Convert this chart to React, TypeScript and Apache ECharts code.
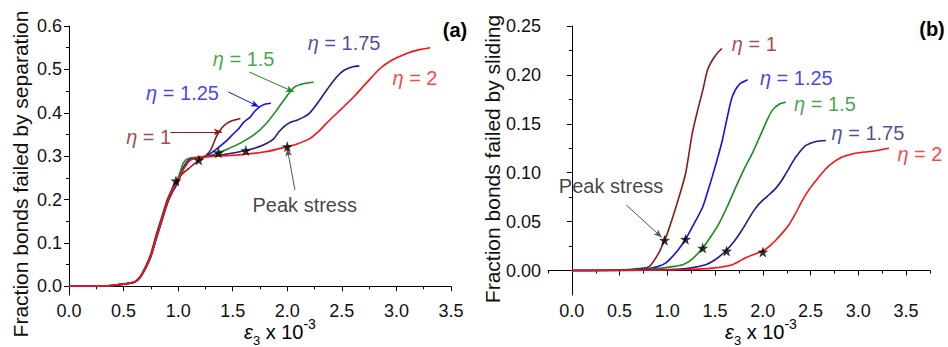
import React, { useEffect, useRef } from "react";
import * as echarts from "echarts";

// ---------- data (a): fraction failed by separation ----------
const sepEta1: number[][] = [[0,0],[0.3,0],[0.4,0.002],[0.5,0.005],[0.6,0.01],[0.65,0.022],[0.7,0.045],[0.75,0.075],[0.8,0.12],[0.85,0.16],[0.9,0.2],[0.95,0.228],[0.98,0.243],[1.05,0.262],[1.1,0.272],[1.15,0.283],[1.2,0.292],[1.25,0.3],[1.3,0.315],[1.35,0.345],[1.4,0.365],[1.45,0.376],[1.5,0.382],[1.57,0.387]];
const sepEta125: number[][] = [[0,0],[0.3,0],[0.4,0.002],[0.5,0.005],[0.6,0.01],[0.65,0.02],[0.7,0.04],[0.75,0.068],[0.8,0.11],[0.85,0.15],[0.9,0.19],[0.95,0.218],[1.0,0.24],[1.05,0.275],[1.1,0.292],[1.15,0.296],[1.2,0.297],[1.25,0.3],[1.3,0.307],[1.36,0.318],[1.45,0.337],[1.5,0.35],[1.55,0.362],[1.6,0.378],[1.66,0.39],[1.7,0.403],[1.75,0.414],[1.8,0.42],[1.85,0.422]];
const sepEta15: number[][] = [[0,0],[0.3,0],[0.4,0.002],[0.5,0.005],[0.6,0.01],[0.65,0.021],[0.7,0.042],[0.75,0.07],[0.8,0.115],[0.85,0.155],[0.9,0.195],[0.95,0.225],[1.0,0.25],[1.05,0.285],[1.1,0.295],[1.2,0.298],[1.3,0.302],[1.37,0.308],[1.45,0.316],[1.57,0.33],[1.7,0.35],[1.81,0.376],[1.9,0.405],[2.0,0.44],[2.06,0.458],[2.12,0.465],[2.17,0.468],[2.24,0.471]];
const sepEta175: number[][] = [[0,0],[0.3,0],[0.4,0.002],[0.5,0.005],[0.6,0.01],[0.65,0.02],[0.7,0.042],[0.75,0.07],[0.8,0.112],[0.85,0.152],[0.9,0.192],[0.95,0.222],[1.0,0.245],[1.05,0.272],[1.1,0.29],[1.15,0.295],[1.2,0.297],[1.3,0.3],[1.45,0.305],[1.62,0.313],[1.7,0.318],[1.8,0.328],[1.875,0.34],[1.92,0.355],[1.97,0.368],[2.03,0.378],[2.09,0.383],[2.15,0.39],[2.2,0.398],[2.27,0.42],[2.36,0.452],[2.45,0.482],[2.52,0.498],[2.6,0.506],[2.66,0.508]];
const sepEta2: number[][] = [[0,0],[0.3,0],[0.4,0.002],[0.5,0.005],[0.6,0.01],[0.65,0.02],[0.7,0.042],[0.75,0.07],[0.8,0.112],[0.85,0.152],[0.9,0.192],[0.95,0.222],[1.0,0.245],[1.05,0.27],[1.1,0.288],[1.15,0.295],[1.2,0.298],[1.5,0.302],[1.8,0.31],[2.0,0.322],[2.09,0.328],[2.21,0.341],[2.3,0.36],[2.36,0.376],[2.5,0.41],[2.61,0.437],[2.73,0.47],[2.85,0.502],[2.95,0.52],[3.1,0.537],[3.2,0.545],[3.31,0.55]];
const sepPeaks: number[][] = [[0.98,0.243],[1.19,0.291],[1.37,0.308],[1.62,0.313],[2.0,0.322]];

// ---------- data (b): fraction failed by sliding ----------
const slEta1: number[][] = [[0,0],[0.4,0.0003],[0.6,0.001],[0.7,0.002],[0.81,0.004],[0.91,0.018],[0.97,0.031],[1.0,0.038],[1.09,0.065],[1.19,0.099],[1.26,0.14],[1.32,0.165],[1.37,0.184],[1.42,0.205],[1.47,0.215],[1.52,0.222],[1.57,0.227]];
const slEta125: number[][] = [[0,0],[0.5,0.0005],[0.7,0.001],[0.81,0.002],[0.9,0.004],[0.98,0.0075],[1.05,0.014],[1.12,0.022],[1.19,0.032],[1.28,0.048],[1.37,0.065],[1.42,0.08],[1.47,0.096],[1.52,0.113],[1.575,0.133],[1.63,0.158],[1.68,0.178],[1.75,0.19],[1.84,0.195]];
const slEta15: number[][] = [[0,0],[0.6,0.0005],[0.9,0.002],[1.05,0.004],[1.16,0.006],[1.25,0.011],[1.37,0.023],[1.45,0.034],[1.54,0.048],[1.63,0.066],[1.72,0.086],[1.8,0.103],[1.89,0.12],[1.95,0.133],[2.0,0.144],[2.05,0.155],[2.1,0.164],[2.17,0.17],[2.24,0.172]];
const slEta175: number[][] = [[0,0],[0.7,0.0003],[1.0,0.001],[1.2,0.002],[1.4,0.006],[1.5,0.011],[1.61,0.02],[1.7,0.03],[1.785,0.042],[1.89,0.059],[1.95,0.067],[2.0,0.072],[2.07,0.078],[2.135,0.084],[2.19,0.091],[2.24,0.099],[2.3,0.109],[2.345,0.116],[2.4,0.123],[2.45,0.128],[2.555,0.132],[2.66,0.133]];
const slEta2: number[][] = [[0,0],[0.8,0.0003],[1.2,0.001],[1.47,0.0025],[1.68,0.006],[1.82,0.013],[1.92,0.017],[2.0,0.02],[2.07,0.025],[2.135,0.031],[2.2,0.038],[2.26,0.045],[2.34,0.058],[2.415,0.072],[2.5,0.085],[2.59,0.096],[2.66,0.104],[2.73,0.11],[2.83,0.116],[2.97,0.12],[3.15,0.122],[3.32,0.125]];
const slPeaks: number[][] = [[0.97,0.031],[1.19,0.032],[1.37,0.023],[1.62,0.02],[2.0,0.019]];

// ---------- labels ----------
const etaNames = ["1", "1.25", "1.5", "1.75", "2"];
const colors = ["#8b1a1a", "#1010f0", "#1a8c1a", "#1c1c8c", "#ff1010"];
const sepLabelPos: number[][] = [[0.73,0.345],[1.04,0.445],[1.60,0.523],[2.52,0.56],[3.17,0.479]];
const slLabelPos: number[][] = [[1.91,0.232],[2.35,0.197],[2.65,0.17],[3.10,0.141],[3.645,0.119]];
// arrows [from, to] by eta index (null = no arrow)
const sepArrows: (number[][] | null)[] = [[[0.93,0.356],[1.40,0.356]], [[1.46,0.448],[1.74,0.414]], [[1.65,0.494],[2.06,0.448]], null, null];
const sepPeakLabel = [2.16, 0.188];
const sepPeakArrow = [[2.07, 0.222], [2.0, 0.318]];
const slPeakLabel = [0.41, 0.086];
const slPeakArrow = [[0.57, 0.067], [0.94, 0.034]];

// ---------- ticks ----------
const slXTicks = [0, 0.5, 1, 1.5, 2, 2.5, 3, 3.5];
const slXMinor = [-0.25, 0.25, 0.75, 1.25, 1.75, 2.25, 2.75, 3.25, 3.75];
const sepYTicks = [0, 0.1, 0.2, 0.3, 0.4, 0.5, 0.6];
const sepYMinor = [0.05, 0.15, 0.25, 0.35, 0.45, 0.55];
const slYTicks = [0, 0.05, 0.1, 0.15, 0.2, 0.25];
const slYMinor = [0.025, 0.075, 0.125, 0.175, 0.225];

const FONT = "'Liberation Sans', Arial, sans-serif";
const STAR = "path://M0,-10L2.35,-3.24L9.51,-3.09L3.8,1.24L5.88,8.09L0,4L-5.88,8.09L-3.8,1.24L-9.51,-3.09L-2.35,-3.24Z";

export default function App() {
  const ref = useRef<HTMLDivElement>(null);
  useEffect(() => {
    if (!ref.current) return;
    const chart = echarts.init(ref.current, null, { renderer: "svg" });

    const mainAxisCommon = {
      axisLine: { show: true, lineStyle: { color: "#000", width: 1 } },
      axisTick: { show: true, length: 5, lineStyle: { color: "#000" } },
      splitLine: { show: false },
      axisLabel: { color: "#111", fontSize: 18, fontFamily: FONT },
    };
    const minorAxisCommon = {
      axisLine: { show: false },
      axisLabel: { show: false },
      splitLine: { show: false },
    };

    const lineSeries = (data: number[][], ci: number, g: number) => ({
      type: "line",
      data,
      xAxisIndex: g === 0 ? 0 : 1,
      yAxisIndex: g === 0 ? 0 : 2,
      showSymbol: false,
      smooth: 0.25,
      lineStyle: { color: colors[ci], width: 1.6 },
      itemStyle: { color: colors[ci] },
      z: 2,
    });

    const arrowLine = (pts: number[][], color: string, width = 1) => ({
      type: "line",
      data: [],
      markLine: {
        silent: true,
        symbol: ["none", "arrow"],
        symbolSize: [5, 8],
        label: { show: false },
        lineStyle: { color, width, type: "solid" },
        data: [[{ coord: pts[0] }, { coord: pts[1] }]],
      },
    });

    const etaRich = (color: string) => ({
      i: { fontStyle: "italic", fontSize: 20, lineHeight: 18, fontFamily: FONT, color },
      n: { fontSize: 20, lineHeight: 18, fontFamily: FONT, color },
    });

    const labelSeries = (pos: number[][], g: number) => ({
      type: "scatter",
      xAxisIndex: g === 0 ? 0 : 1,
      yAxisIndex: g === 0 ? 0 : 2,
      symbolSize: 0,
      silent: true,
      z: 5,
      data: pos.map((p, i) => ({
        value: p,
        label: {
          show: true,
          position: "inside",
          formatter: `{i|η}{n| = ${etaNames[i]}}`,
          rich: etaRich(colors[i]),
        },
      })),
    });

    const peakLabel = (pos: number[], g: number) => ({
      type: "scatter",
      xAxisIndex: g === 0 ? 0 : 1,
      yAxisIndex: g === 0 ? 0 : 2,
      symbolSize: 0,
      silent: true,
      data: [{
        value: pos,
        label: { show: true, position: "inside", formatter: "Peak stress", color: "#111", fontSize: 20, fontFamily: FONT },
      }],
    });

    const starSeries = (data: number[][], g: number) => ({
      type: "scatter",
      xAxisIndex: g === 0 ? 0 : 1,
      yAxisIndex: g === 0 ? 0 : 2,
      symbol: STAR,
      symbolSize: 11,
      itemStyle: { color: "#000" },
      data,
      z: 6,
    });

    const series: any[] = [];
    [sepEta1, sepEta125, sepEta15, sepEta175, sepEta2].forEach((d, i) => series.push(lineSeries(d, i, 0)));
    [slEta1, slEta125, slEta15, slEta175, slEta2].forEach((d, i) => series.push(lineSeries(d, i, 1)));
    sepArrows.forEach((a, i) => {
      if (a) series.push({ ...arrowLine(a, colors[i]), xAxisIndex: 0, yAxisIndex: 0 });
    });
    series.push({ ...arrowLine(sepPeakArrow, "#555"), xAxisIndex: 0, yAxisIndex: 0 });
    series.push({ ...arrowLine(slPeakArrow, "#555"), xAxisIndex: 1, yAxisIndex: 2 });
    series.push(labelSeries(sepLabelPos, 0));
    series.push(labelSeries(slLabelPos, 1));
    series.push(peakLabel(sepPeakLabel, 0));
    series.push(peakLabel(slPeakLabel, 1));
    series.push(starSeries(sepPeaks, 0));
    series.push(starSeries(slPeaks, 1));

    const xNameRich = {
      e: { fontStyle: "italic", fontSize: 20, fontFamily: FONT, color: "#111", lineHeight: 30, verticalAlign: "middle" },
      t: { fontSize: 20, fontFamily: FONT, color: "#111", lineHeight: 30, verticalAlign: "middle" },
      sub: { fontSize: 13, fontFamily: FONT, color: "#111", lineHeight: 14, verticalAlign: "bottom" },
      sup: { fontSize: 14, fontFamily: FONT, color: "#111", lineHeight: 14, verticalAlign: "top" },
    };
    const xNameText = "{e|ε}{sub|3}{t| x 10}{sup|-3}";

    chart.setOption({
      animation: false,
      backgroundColor: "#fff",
      grid: [
        { left: 69, top: 26, width: 382, height: 269, containLabel: false },
        { left: 548, top: 26, width: 382, height: 269, containLabel: false },
      ],
      xAxis: [
        {
          type: "value", gridIndex: 0, min: 0, max: 3.5, interval: 0.5,
          ...mainAxisCommon,
          axisLabel: { ...mainAxisCommon.axisLabel, margin: 7, formatter: (v: number) => v.toFixed(1) },
          minorTick: { show: true, splitNumber: 2, length: 3, lineStyle: { color: "#000" } },
        },
        {
          type: "value", gridIndex: 1, min: -0.25, max: 3.75,
          ...mainAxisCommon,
          axisTick: { ...mainAxisCommon.axisTick, customValues: slXTicks },
          axisLabel: { ...mainAxisCommon.axisLabel, margin: 7, customValues: slXTicks, formatter: (v: number) => v.toFixed(1) },
        },
        {
          type: "value", gridIndex: 1, min: -0.25, max: 3.75, position: "bottom",
          ...minorAxisCommon,
          axisTick: { show: true, length: 3, lineStyle: { color: "#000" }, customValues: slXMinor },
        },
      ],
      yAxis: [
        {
          type: "value", gridIndex: 0, min: -0.02, max: 0.6,
          ...mainAxisCommon,
          axisTick: { ...mainAxisCommon.axisTick, customValues: sepYTicks },
          axisLabel: { ...mainAxisCommon.axisLabel, margin: 7, customValues: sepYTicks, formatter: (v: number) => v.toFixed(1) },
        },
        {
          type: "value", gridIndex: 0, min: -0.02, max: 0.6, position: "left",
          ...minorAxisCommon,
          axisTick: { show: true, length: 3, lineStyle: { color: "#000" }, customValues: sepYMinor },
        },
        {
          type: "value", gridIndex: 1, min: -0.025, max: 0.25,
          ...mainAxisCommon,
          axisTick: { ...mainAxisCommon.axisTick, customValues: slYTicks },
          axisLabel: { ...mainAxisCommon.axisLabel, margin: 7, customValues: slYTicks, formatter: (v: number) => v.toFixed(2) },
        },
        {
          type: "value", gridIndex: 1, min: -0.025, max: 0.25, position: "left",
          ...minorAxisCommon,
          axisTick: { show: true, length: 3, lineStyle: { color: "#000" }, customValues: slYMinor },
        },
      ],
      graphic: [
        {
          type: "text", x: 20, y: 174, rotation: Math.PI / 2,
          style: { text: "Fraction bonds failed by separation", fontSize: 21, fontFamily: FONT, fill: "#111", align: "center", verticalAlign: "middle" },
        },
        {
          type: "text", x: 492, y: 159, rotation: Math.PI / 2,
          style: { text: "Fraction bonds failed by sliding", fontSize: 21, fontFamily: FONT, fill: "#111", align: "center", verticalAlign: "middle" },
        },
        {
          type: "text", x: 280, y: 332,
          style: { text: xNameText, rich: xNameRich, align: "center", verticalAlign: "middle" },
        },
        {
          type: "text", x: 761, y: 332,
          style: { text: xNameText, rich: xNameRich, align: "center", verticalAlign: "middle" },
        },
        {
          type: "text", x: 455, y: 30,
          style: { text: "(a)", fontSize: 20, fontWeight: "bold", fontFamily: FONT, fill: "#000", align: "center", verticalAlign: "middle" },
        },
        {
          type: "text", x: 932, y: 29,
          style: { text: "(b)", fontSize: 20, fontWeight: "bold", fontFamily: FONT, fill: "#000", align: "center", verticalAlign: "middle" },
        },
      ],
      series,
    });
    return () => chart.dispose();
  }, []);
  return <div ref={ref} style={{ position: "fixed", left: 0, top: 0, width: 948, height: 347 }} />;
}
